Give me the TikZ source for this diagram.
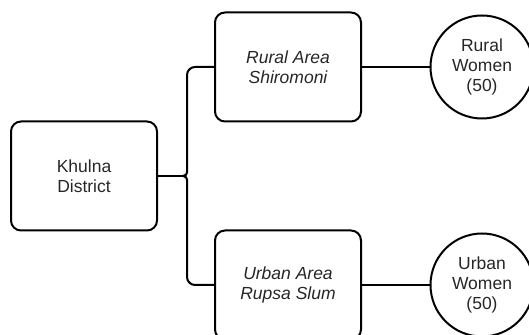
\documentclass[tikz,border=0pt]{standalone}
\usepackage{fontspec}
\setmainfont{Liberation Sans}
\usepackage{tikz}
\usetikzlibrary{calc,positioning}

\begin{document}
\begin{tikzpicture}[x=1pt,y=1pt,
	box/.style={draw, line width=2pt, rounded corners=10pt, minimum width=146pt, minimum height=109pt, align=center, text=black!85, font=\fontsize{17.5}{20}\selectfont},
	women/.style={draw, line width=2pt, circle, minimum size=103pt, inner sep=0pt, align=center, text=black!85, font=\fontsize{17.5}{20}\selectfont},
	link/.style={line width=2pt},
	brace/.style={line width=2pt, rounded corners=8pt}]
		
		\useasboundingbox (0,0) rectangle (529,334);
		
		\node[box] (khulna) at (84,158) {Khulna\\District};
		\node[box] (rural) at (288,267) {\itshape Rural Area\\\itshape Shiromoni};
		\node[box] (urban) at (288,49) {\itshape Urban Area\\\itshape Rupsa Slum};
		
		\node[women] (rw) at (482,267) {Rural\\Women\\(50)};
		\node[women] (uw) at (482,49) {Urban\\Women\\(50)};
		
		\coordinate (cusp) at ($(khulna.east)+(25,0)$);
		\draw[brace] (rural.west) -| ($(cusp)+(4,14)$) to[out=-90,in=0] (cusp);
		\draw[brace] (urban.west) -| ($(cusp)+(4,-14)$) to[out=90,in=0] (cusp);
		\draw[link] (khulna) -- (cusp);
		
		\draw[link] (rural) -- (rw);
		\draw[link] (urban) -- (uw);
	\end{tikzpicture}
\end{document}
